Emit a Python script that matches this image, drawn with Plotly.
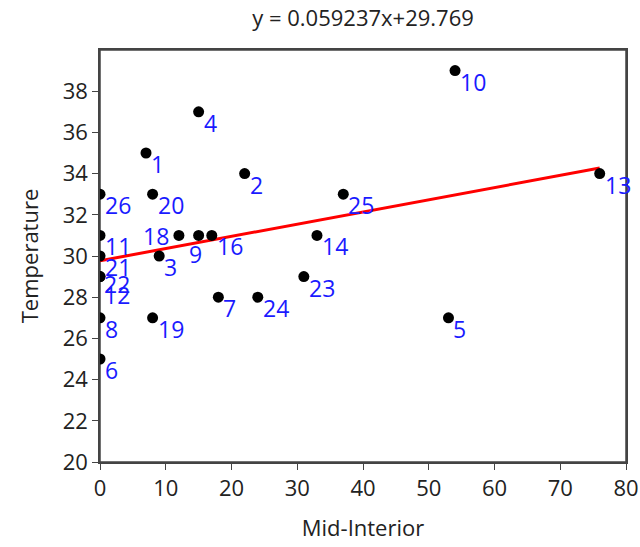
import plotly.graph_objects as go

# Data
labels = ["1", "2", "3", "4", "5", "6", "7", "8", "9", "10", "11", "12",
          "13", "14", "16", "18", "19", "20", "21", "22", "23", "24", "25", "26"]
mid_interior = [7, 22, 9, 15, 53, 0, 18, 0, 15, 54, 0, 0,
                76, 33, 17, 12, 8, 8, 0, 0, 31, 24, 37, 0]
temperature = [35, 34, 30, 37, 27, 25, 28, 27, 31, 39, 31, 29,
               34, 31, 31, 31, 27, 33, 30, 29, 29, 28, 33, 33]

slope = 0.059237
intercept = 29.769

y_ticks = [20, 22, 24, 26, 28, 30, 32, 34, 36, 38]
x_ticks = [0, 10, 20, 30, 40, 50, 60, 70, 80]

# label pixel offsets (dx right, dy down) from each dot
default_off = (3, 11)
special_off = {"18": (-38, 1), "9": (-12, 19), "22": (2, 7), "12": (2, 18)}

fig = go.Figure()

xmin, xmax = min(mid_interior), max(mid_interior)
fig.add_trace(go.Scatter(
    x=[xmin, xmax], y=[slope * xmin + intercept, slope * xmax + intercept],
    mode="lines", line=dict(color="#ff0000", width=3), hoverinfo="skip"))

fig.add_trace(go.Scatter(
    x=mid_interior, y=temperature, mode="markers",
    marker=dict(color="black", size=11), hoverinfo="skip"))

for lab, x, y in zip(labels, mid_interior, temperature):
    dx, dy = special_off.get(lab, default_off)
    fig.add_annotation(x=x, y=y, text=lab, showarrow=False,
                       xanchor="left", yanchor="middle",
                       xshift=dx, yshift=-dy,
                       font=dict(family="Open Sans, sans-serif", size=23, color="#1a1aff"))

# plot frame
fig.add_shape(type="rect", xref="paper", yref="paper", x0=0, y0=0, x1=1, y1=1,
              line=dict(color="#444444", width=1.5), layer="below")

axis_font = dict(family="Open Sans, sans-serif", size=22, color="#222222")

fig.update_layout(
    width=640, height=547,
    margin=dict(l=100, r=14, t=50, b=85),
    paper_bgcolor="white", plot_bgcolor="white",
    showlegend=False,
    title=dict(text=f"y = {slope}x+{intercept}", xref="paper", x=0.5, xanchor="center",
               y=0.966, yanchor="middle",
               font=dict(family="Open Sans, sans-serif", size=22, color="#222222")),
    xaxis=dict(range=[0, 80], tickvals=x_ticks, showgrid=False, zeroline=False,
               showline=True, mirror=True, linecolor="#444444", linewidth=1.5,
               ticks="outside", ticklen=6, tickcolor="#444444",
               tickfont=axis_font, automargin=False,
               title=dict(text="Mid-Interior", font=axis_font, standoff=19)),
    yaxis=dict(range=[20, 40], tickvals=y_ticks, showgrid=False, zeroline=False,
               showline=True, mirror=True, linecolor="#444444", linewidth=1.5,
               ticks="outside", ticklen=6, tickcolor="#444444",
               tickfont=axis_font, automargin=False,
               title=dict(text="Temperature", font=axis_font, standoff=18)),
)

fig.write_html(
    "out.html",
    config={"displayModeBar": False},
    post_script="document.documentElement.style.overflow='hidden';"
                "document.body.style.margin='0';document.body.style.overflow='hidden';",
)
